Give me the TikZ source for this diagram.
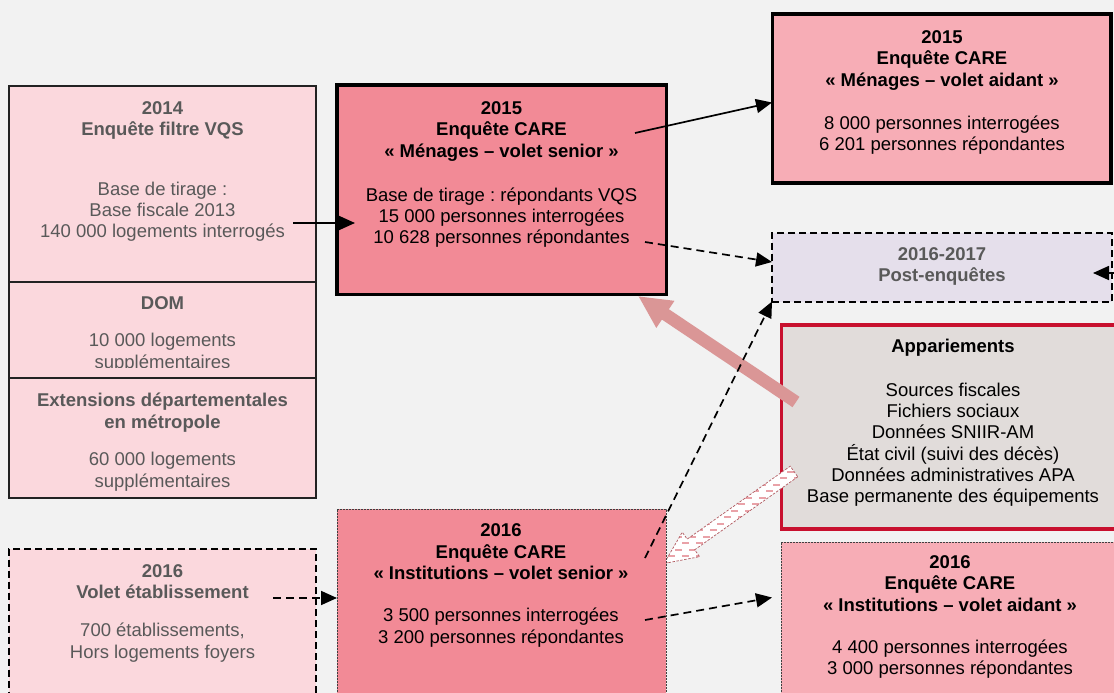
\documentclass[tikz,border=0pt]{standalone}
\usepackage{fontspec}
\setmainfont{Liberation Sans}
\frenchspacing
\usetikzlibrary{arrows.meta,calc}
\definecolor{bg}{HTML}{F2F2F2}
\definecolor{palepink}{HTML}{FBD8DD}
\definecolor{strongpink}{HTML}{F28A96}
\definecolor{midpink}{HTML}{F7ADB6}
\definecolor{lavender}{HTML}{E5DFEB}
\definecolor{appgray}{HTML}{E1DCDA}
\definecolor{appred}{HTML}{C8102E}
\definecolor{thickarrow}{HTML}{DA9696}
\definecolor{hatchpink}{HTML}{E9A2A8}
\definecolor{hatchline}{HTML}{B05A60}
\definecolor{graytext}{HTML}{595959}
\definecolor{boxline}{HTML}{222222}
\newcommand{\myhatchpath}{(hA) -- (hB1) -- (hB2) -- (hP) -- (hB3) -- (hB4) -- (hC) -- cycle}
\begin{document}
\begin{tikzpicture}[x=1pt,y=-1pt,
  box/.style={rectangle, inner sep=0pt, outer sep=0pt, anchor=north west},
  solidbox/.style={box, draw=boxline, line width=2.2pt, fill=palepink},
  heavybox/.style={box, draw=black, line width=3.6pt},
  dashbox/.style={box, draw=black, line width=2pt, dash pattern=on 7pt off 4pt},
  dotbox/.style={box, draw=black!75, line width=0.7pt, dash pattern=on 2pt off 1pt},
  txt/.style={anchor=north, inner sep=0pt, align=center, font=\fontsize{18.5}{21.3}\selectfont},
  hd/.style={txt, font=\fontsize{18.5}{21.3}\selectfont\bfseries},
  gr/.style={text=graytext},
  conn/.style={line width=1.7pt, draw=black, -{Triangle[length=16pt,width=14pt]}},
  dconn/.style={conn, dash pattern=on 8pt off 5pt},
]
\useasboundingbox (0,0) rectangle (1114,693);
\fill[bg] (0,0) rectangle (1114,693);

% ---- boxes (lower layer)
\node[solidbox, minimum width=307pt, minimum height=196pt] (v14) at (9,86) {};
\node[solidbox, minimum width=307pt, minimum height=96pt] (vdom) at (9,282) {};
\node[solidbox, minimum width=307pt, minimum height=120pt] (vext) at (9,378) {};
\node[dashbox, fill=palepink, minimum width=307pt, minimum height=200pt] (vol) at (9,548.5) {};
\node[heavybox, fill=midpink, minimum width=338.7pt, minimum height=168.4pt] (ma) at (772.3,14.3) {};
\node[dashbox, fill=lavender, minimum width=340pt, minimum height=69pt] (post) at (772,232.5) {};
\node[box, draw=appred, line width=3.6pt, fill=appgray, minimum width=360pt, minimum height=204pt] (app) at (781.3,324.7) {};
\node[dotbox, fill=midpink, minimum width=360pt, minimum height=200pt] (ia) at (781,542) {};

% ---- block arrows
\coordinate (pT) at (796,402);
\coordinate (pP) at (638,296);
\draw[line width=12.5pt, draw=thickarrow, -{Triangle[length=33pt,width=30pt]}] (pT) -- (pP);

\coordinate (hT) at (794,471.5);
\coordinate (hP) at (664,563.5);
\coordinate (hM) at ($(hP)!33pt!(hT)$);
\coordinate (hA) at ($(hT)!6.5pt!90:(hP)$);
\coordinate (hC) at ($(hT)!6.5pt!-90:(hP)$);
\coordinate (hB1) at ($(hM)!6.5pt!90:(hP)$);
\coordinate (hB2) at ($(hM)!15pt!90:(hP)$);
\coordinate (hB3) at ($(hM)!15pt!-90:(hP)$);
\coordinate (hB4) at ($(hM)!6.5pt!-90:(hP)$);
\begin{scope}
  \clip \myhatchpath;
  \fill[white] (640,440) rectangle (820,590);
  \foreach \k in {0,...,22} {
    \pgfmathsetmacro{\ph}{mod(\k,2)*7}
    \draw[hatchpink, line width=2pt, dash pattern=on 7pt off 7pt, dash phase=\ph pt]
      (640,{452+\k*6.5}) -- (820,{452+\k*6.5});
  }
\end{scope}
\draw[hatchline, line width=0.7pt, dash pattern=on 2.5pt off 1.5pt] \myhatchpath;

% ---- boxes (upper layer)
\node[heavybox, fill=strongpink, minimum width=329.5pt, minimum height=209pt] (ms) at (337,85.3) {};
\node[dotbox, fill=strongpink, minimum width=329pt, minimum height=220pt] (isn) at (337,509) {};

% ---- texts
\node[hd, gr] (t14h) at (162.5,99.3) {\strut 2014\\Enquête filtre VQS};
\node[txt, gr] (t14b) at (162.5,180) {\strut Base de tirage :\\Base fiscale 2013\\140 000 logements interrogés};
\node[hd, gr] (tdomh) at (162.5,294) {\strut DOM};
\begin{scope}
  \clip (9,283) rectangle (316,367.5);
  \node[txt, gr] (tdomb) at (162.5,331.7) {\strut 10 000 logements\\supplémentaires};
\end{scope}
\node[hd, gr] (texth) at (162.5,391.7) {\strut Extensions départementales\\en métropole};
\node[txt, gr] (textb) at (162.5,450.6) {\strut 60 000 logements\\supplémentaires};

\node[hd] (tmsh) at (501.5,99.3) {\strut 2015\\Enquête CARE\\« Ménages – volet senior »};
\node[txt] (tmsb) at (501.5,186) {\strut Base de tirage : répondants VQS\\15 000 personnes interrogées\\10 628 personnes répondantes};

\node[hd] (tmah) at (942,28.3) {\strut 2015\\Enquête CARE\\« Ménages – volet aidant »};
\node[txt] (tmab) at (942,114.3) {\strut 8 000 personnes interrogées\\6 201 personnes répondantes};

\node[hd, gr] (tpost) at (942,245) {\strut 2016-2017\\Post-enquêtes};

\node[hd] (tapph) at (953,337.7) {\strut Appariements};
\node[txt] (tappb) at (953,381) {\strut Sources fiscales\\Fichiers sociaux\\Données SNIIR-AM\\État civil (suivi des décès)\\Données administratives APA\\Base permanente des équipements};

\node[hd] (tisnh) at (501,521.7) {\strut 2016\\Enquête CARE\\« Institutions – volet senior »};
\node[txt] (tisnb) at (501,606.7) {\strut 3 500 personnes interrogées\\3 200 personnes répondantes};

\node[hd, gr] (tvolh) at (162.5,562.3) {\strut 2016\\Volet établissement};
\node[txt, gr] (tvolb) at (162.5,621.7) {\strut 700 établissements,\\Hors logements foyers};

\node[hd] (tiah) at (950,553.3) {\strut 2016\\Enquête CARE\\« Institutions – volet aidant »};
\node[txt] (tiab) at (950,638.3) {\strut 4 400 personnes interrogées\\3 000 personnes répondantes};

% ---- connectors
\coordinate (c1s) at (293,223);
\coordinate (c1e) at (355,223);
\draw[conn] (c1s) -- (c1e);
\coordinate (c2s) at (635,133);
\coordinate (c2e) at (772,102.5);
\draw[conn] (c2s) -- (c2e);
\coordinate (c3s) at (645,242);
\coordinate (c3e) at (772,262);
\draw[dconn] (c3s) -- (c3e);
\coordinate (c4s) at (645,558);
\draw[dconn] (c4s) -- (post.south west);
\coordinate (c5s) at (645,620);
\coordinate (c5e) at (772,597.5);
\draw[dconn] (c5s) -- (c5e);
\coordinate (c6s) at (273,598);
\coordinate (c6e) at (337,598);
\draw[dconn] (c6s) -- (c6e);
\coordinate (c7s) at (1125,273);
\coordinate (c7e) at (1093,273);
\draw[conn] (c7s) -- (c7e);
\end{tikzpicture}
\end{document}
